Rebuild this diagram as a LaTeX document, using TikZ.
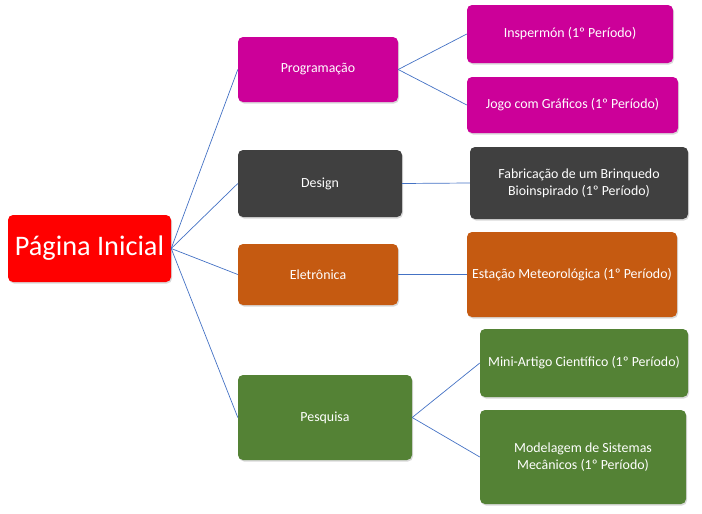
\documentclass[tikz,border=0pt]{standalone}
\usepackage{fontspec}
\setmainfont{Carlito}
\usepackage{tikz}
\usetikzlibrary{shadows}

\definecolor{rootred}{HTML}{FF0000}
\definecolor{progmag}{HTML}{CC0099}
\definecolor{designgray}{HTML}{404040}
\definecolor{eletrorange}{HTML}{C55A11}
\definecolor{pesqgreen}{HTML}{548235}
\definecolor{linkblue}{HTML}{4472C4}

\begin{document}
\begin{tikzpicture}[
    x=1pt, y=-1pt,
    box/.style={rounded corners=5pt, text=white, align=center, inner sep=2pt,
        font=\fontsize{13.9}{17}\selectfont,
        drop shadow={opacity=0.3, shadow xshift=1pt, shadow yshift=-1.5pt}},
    rootbox/.style={box, fill=rootred, font=\fontsize{28.3}{33}\selectfont},
    progbox/.style={box, fill=progmag},
    designbox/.style={box, fill=designgray},
    eletrbox/.style={box, fill=eletrorange},
    pesqbox/.style={box, fill=pesqgreen},
    link/.style={draw=linkblue, line width=0.7pt},
]
\useasboundingbox (0,0) rectangle (702,514);
\node[rootbox, minimum width=163pt, minimum height=67pt] (root) at (89.5,248.5) {Página Inicial};
\node[progbox, minimum width=160pt, minimum height=65pt] (prog) at (318,69.5) {Programação};
\node[designbox, minimum width=164pt, minimum height=67pt] (design) at (320,183.5) {Design};
\node[eletrbox, minimum width=160pt, minimum height=61pt] (eletr) at (318,274.5) {Eletrônica};
\node[pesqbox, minimum width=174pt, minimum height=85pt] (pesq) at (325,417.5) {Pesquisa};
\node[progbox, minimum width=206pt, minimum height=58pt] (insp) at (570,34) {Inspermón (1º Período)};
\node[progbox, minimum width=211pt, minimum height=56pt] (jogo) at (572.5,105) {Jogo com Gráficos (1º Período)};
\node[designbox, minimum width=218pt, minimum height=72pt] (fabr) at (579,183) {Fabricação de um Brinquedo\\Bioinspirado (1º Período)};
\node[eletrbox, minimum width=210pt, minimum height=85pt] (estac) at (572,274.5) {Estação Meteorológica (1º Período)};
\node[pesqbox, minimum width=208pt, minimum height=68pt] (mini) at (584,363) {Mini-Artigo Científico (1º Período)};
\node[pesqbox, minimum width=206pt, minimum height=94pt] (model) at (583,457) {Modelagem de Sistemas\\Mecânicos (1º Período)};
% ligações
\draw[link] (root.east) -- (prog.west);
\draw[link] (root.east) -- (design.west);
\draw[link] (root.east) -- (eletr.west);
\draw[link] (root.east) -- (pesq.west);
\draw[link] (prog.east) -- (insp.west);
\draw[link] (prog.east) -- (jogo.west);
\draw[link] (design.east) -- (fabr.west);
\draw[link] (eletr.east) -- (estac.west);
\draw[link] (pesq.east) -- (mini.west);
\draw[link] (pesq.east) -- (model.west);
\end{tikzpicture}
\end{document}
